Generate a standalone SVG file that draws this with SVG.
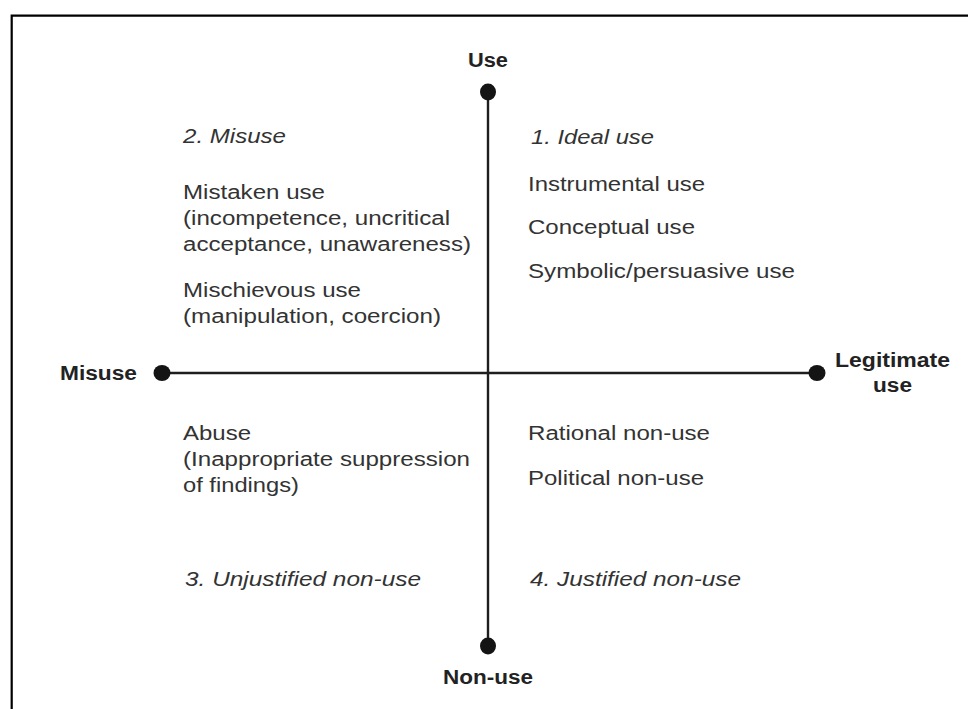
<svg xmlns="http://www.w3.org/2000/svg" width="968" height="709" viewBox="0 0 968 709">
  <style>
    .frame { fill: none; stroke: #000; stroke-width: 2.2; }
    .axis { stroke: #1e1e1e; stroke-width: 2.4; fill: none; }
    .dot { fill: #141414; }
    .pole { font-family: "Liberation Sans", Arial, sans-serif; font-weight: bold; font-size: 20px; fill: #222; }
    .item { font-family: "Liberation Sans", Arial, sans-serif; font-size: 20px; fill: #333; }
    .head { font-family: "Liberation Sans", Arial, sans-serif; font-style: italic; font-size: 20px; fill: #333; }
  </style>

  <!-- outer frame (open at right and bottom) -->
  <path class="frame" d="M11.7,709 V15.7 H968"/>

  <!-- axes -->
  <g id="connectors">
    <line class="axis" x1="488" y1="92" x2="488" y2="646"/>
    <line class="axis" x1="162" y1="373" x2="817" y2="373"/>
  </g>

  <!-- axis end points -->
  <g id="use">
    <ellipse class="dot" cx="488" cy="92" rx="8" ry="8.5"/>
    <text class="pole" x="488" y="67" text-anchor="middle" textLength="40" lengthAdjust="spacingAndGlyphs">Use</text>
  </g>
  <g id="non-use">
    <ellipse class="dot" cx="488" cy="646" rx="8" ry="8.5"/>
    <text class="pole" x="488" y="684" text-anchor="middle" textLength="90" lengthAdjust="spacingAndGlyphs">Non-use</text>
  </g>
  <g id="misuse">
    <ellipse class="dot" cx="162" cy="373" rx="8.5" ry="8"/>
    <text class="pole" x="60" y="380" textLength="77" lengthAdjust="spacingAndGlyphs">Misuse</text>
  </g>
  <g id="legitimate-use">
    <ellipse class="dot" cx="817" cy="373" rx="8.5" ry="8"/>
    <text class="pole" x="892.5" y="367" text-anchor="middle" textLength="115" lengthAdjust="spacingAndGlyphs">Legitimate</text>
    <text class="pole" x="892.5" y="392" text-anchor="middle" textLength="39" lengthAdjust="spacingAndGlyphs">use</text>
  </g>

  <!-- quadrant 2: misuse -->
  <g id="q2-misuse">
    <text class="head" x="183" y="143" textLength="103" lengthAdjust="spacingAndGlyphs">2. Misuse</text>
    <text class="item" x="183" y="199" textLength="142" lengthAdjust="spacingAndGlyphs">Mistaken use</text>
    <text class="item" x="183" y="225" textLength="267" lengthAdjust="spacingAndGlyphs">(incompetence, uncritical</text>
    <text class="item" x="183" y="251" textLength="288" lengthAdjust="spacingAndGlyphs">acceptance, unawareness)</text>
    <text class="item" x="183" y="297" textLength="178" lengthAdjust="spacingAndGlyphs">Mischievous use</text>
    <text class="item" x="183" y="323" textLength="258" lengthAdjust="spacingAndGlyphs">(manipulation, coercion)</text>
  </g>

  <!-- quadrant 1: ideal use -->
  <g id="q1-ideal-use">
    <text class="head" x="531" y="144" textLength="123" lengthAdjust="spacingAndGlyphs">1. Ideal use</text>
    <text class="item" x="528" y="191" textLength="177" lengthAdjust="spacingAndGlyphs">Instrumental use</text>
    <text class="item" x="528" y="234" textLength="167" lengthAdjust="spacingAndGlyphs">Conceptual use</text>
    <text class="item" x="528" y="278" textLength="267" lengthAdjust="spacingAndGlyphs">Symbolic/persuasive use</text>
  </g>

  <!-- quadrant 3: unjustified non-use -->
  <g id="q3-unjustified-non-use">
    <text class="item" x="183" y="440" textLength="68" lengthAdjust="spacingAndGlyphs">Abuse</text>
    <text class="item" x="183" y="466" textLength="287" lengthAdjust="spacingAndGlyphs">(Inappropriate suppression</text>
    <text class="item" x="183" y="492" textLength="116" lengthAdjust="spacingAndGlyphs">of findings)</text>
    <text class="head" x="185" y="586" textLength="236" lengthAdjust="spacingAndGlyphs">3. Unjustified non-use</text>
  </g>

  <!-- quadrant 4: justified non-use -->
  <g id="q4-justified-non-use">
    <text class="item" x="528" y="440" textLength="182" lengthAdjust="spacingAndGlyphs">Rational non-use</text>
    <text class="item" x="528" y="485" textLength="176" lengthAdjust="spacingAndGlyphs">Political non-use</text>
    <text class="head" x="530" y="586" textLength="211" lengthAdjust="spacingAndGlyphs">4. Justified non-use</text>
  </g>
</svg>
